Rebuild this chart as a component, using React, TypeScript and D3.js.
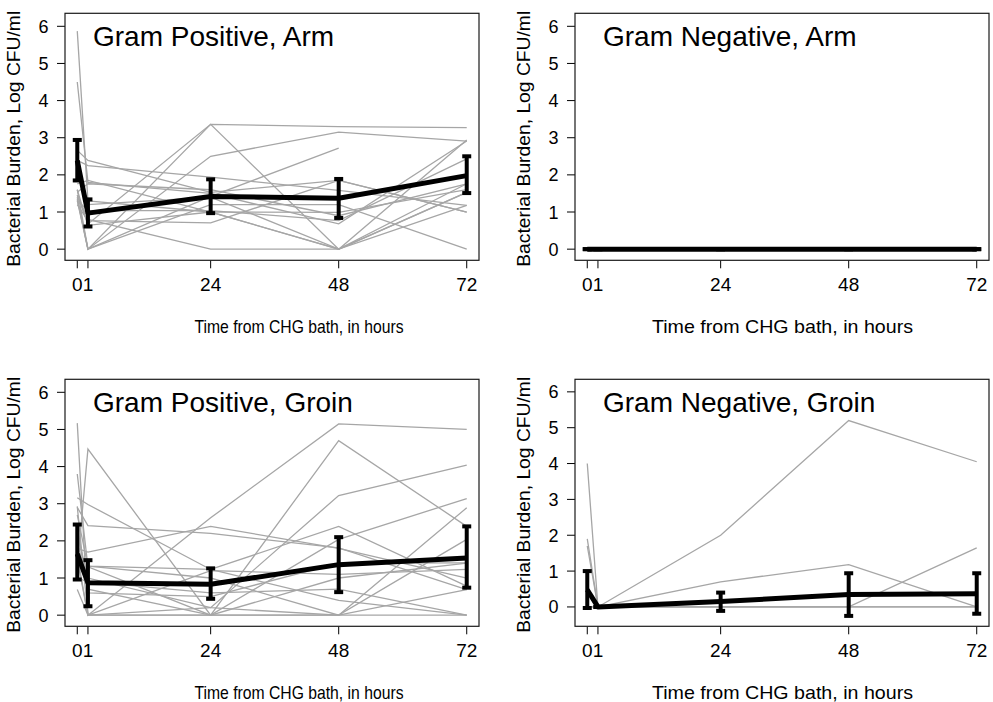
import * as d3 from "d3";

// time points (pre-bath plotted at -1, labelled "0")
const timePoints = [-1, 1, 24, 48, 72];
const timeLabels = ["0", "1", "24", "48", "72"];
const yTicks = [0, 1, 2, 3, 4, 5, 6];

// individual subjects, values at [0, 1, 24, 48, 72] h
const gpArmSubjects: (number | null)[][] = [
  [5.87, 1.3, 1.0, 0, 1.18],
  [4.5, 1.8, 1.5, 0.68, 2.91],
  [2.66, 2.39, 1.53, 1.85, 1.0],
  [2.39, 2.25, 1.94, 1.58, 1.18],
  [1.76, 1.85, 1.0, 0, 2.94],
  [1.53, 1.76, 1.6, 0.9, 1.76],
  [1.45, 0.68, 3.36, 3.3, 3.27],
  [1.31, 0, 3.36, 0, 1.53],
  [1.6, 0, 2.5, 3.15, 2.91],
  [1.4, 0, 1.42, 2.72, null],
  [1.31, 1.04, 1.04, 0.77, 2.43],
  [1.2, 0.77, 0.71, 1.85, 1.0],
  [1.45, 0.8, 0, 0, 1.53],
  [1.35, 0, 1.2, 1.2, 0],
  [2.0, 1.2, 1.4, 0, 1.76],
  [1.6, 0.64, 1.0, 0.99, 1.6],
];
const gpArmMean = [2.39, 0.97, 1.42, 1.37, 1.98];
const gpArmLow = [1.85, 0.61, 0.97, 0.84, 1.51];
const gpArmHigh = [2.94, 1.34, 1.88, 1.89, 2.5];

const gnArmSubjects: (number | null)[][] = [
  [0, 0, 0, 0, 0],
  [0, 0, 0, 0, 0],
  [0, 0, 0, 0, 0],
];
const gnArmMean = [0, 0, 0, 0, 0];
const gnArmLow = [0, 0, 0, 0, 0];
const gnArmHigh = [0, 0, 0, 0, 0];

const gpGroinSubjects: (number | null)[][] = [
  [5.17, 0, 2.62, 5.15, 5.0],
  [3.8, 1.3, 0, 4.7, 2.39],
  [2.93, 0, 0.2, 3.22, 4.04],
  [1.3, 4.47, 0, 1.0, 1.4],
  [3.16, 2.98, 1.23, 0.4, 0],
  [2.9, 2.41, 2.2, 1.81, 0.69],
  [1.8, 1.7, 2.39, 1.8, 1.0],
  [2.7, 1.32, 1.23, 2.39, 0.78],
  [0.69, 0, 0, 2.04, 3.14],
  [1.3, 1.32, 1.0, 0, 2.89],
  [2.0, 0.7, 0, 0, 2.04],
  [1.5, 0, 1.2, 1.1, 1.23],
  [1.0, 0.9, 0.6, 0.7, 0],
  [2.2, 1.0, 0.2, 0, 0.69],
  [1.6, 0, 0, 0, 0],
  [2.4, 0.6, 0.5, 1.4, 1.41],
];
const gpGroinMean = [1.65, 0.87, 0.83, 1.36, 1.54];
const gpGroinLow = [0.96, 0.24, 0.44, 0.62, 0.74];
const gpGroinHigh = [2.44, 1.48, 1.26, 2.1, 2.39];

const gnGroinSubjects: (number | null)[][] = [
  [4.0, 0, 2.0, 5.2, 4.05],
  [1.9, 0, 0.7, 1.18, 0],
  [1.7, 0, 0, 0, 1.65],
  [0, 0, 0, 0, 0],
  [0, 0, 0, 0, 0],
];
const gnGroinMean = [0.48, 0, 0.15, 0.35, 0.37];
const gnGroinLow = [-0.03, 0, -0.11, -0.25, -0.19];
const gnGroinHigh = [1.0, 0, 0.4, 0.94, 0.94];

const panels = [
  { title: "Gram Positive, Arm", subjects: gpArmSubjects, mean: gpArmMean, low: gpArmLow, high: gpArmHigh, yMin: -0.3, col: 0, row: 0 },
  { title: "Gram Negative, Arm", subjects: gnArmSubjects, mean: gnArmMean, low: gnArmLow, high: gnArmHigh, yMin: -0.3, col: 1, row: 0 },
  { title: "Gram Positive, Groin", subjects: gpGroinSubjects, mean: gpGroinMean, low: gpGroinLow, high: gpGroinHigh, yMin: -0.3, col: 0, row: 1 },
  { title: "Gram Negative, Groin", subjects: gnGroinSubjects, mean: gnGroinMean, low: gnGroinLow, high: gnGroinHigh, yMin: -0.54, col: 1, row: 1 },
];

const FONT = "'Liberation Sans', Arial, sans-serif";
const boxW = 414;
const boxH = 247;

function Panel({ p }: { p: (typeof panels)[number] }) {
  const left = 65 + 510 * p.col;
  const top = 13.3 + 366 * p.row;
  const x = d3.scaleLinear().domain([-3.3, 74.3]).range([left, left + boxW]);
  const y = d3.scaleLinear().domain([p.yMin, 6.35]).range([top + boxH, top]);

  const line = d3
    .line<number | null>()
    .defined((d) => d !== null)
    .x((_, i) => x(timePoints[i]))
    .y((d) => y(d as number));

  // the x titles in the source are not the same width left and right
  const xTitleX = p.col === 0 ? 299 : 782.5;
  const xTitleW = p.col === 0 ? 209 : 261;
  const capW = 4.5;

  return (
    <g>
      <text
        transform={`translate(${left - 45},${top + boxH / 2 + 2}) rotate(-90)`}
        textAnchor="middle"
        fontFamily={FONT}
        fontSize={18}
        textLength={256}
        lengthAdjust="spacingAndGlyphs"
        fill="#000"
      >
        Bacterial Burden, Log CFU/ml
      </text>
      {yTicks.map((t) => (
        <g key={t}>
          <line x1={left - 8} x2={left} y1={y(t)} y2={y(t)} stroke="#000" strokeWidth={1} />
          <text x={left - 16.5} y={y(t) + 6.5} textAnchor="end" fontFamily={FONT} fontSize={18}>
            {t}
          </text>
        </g>
      ))}
      {timePoints.map((t, i) => (
        <g key={t}>
          <line x1={x(t)} x2={x(t)} y1={top + boxH} y2={top + boxH + 8} stroke="#000" strokeWidth={1} />
          <text x={x(t)} y={top + boxH + 31} textAnchor="middle" fontFamily={FONT} fontSize={19}>
            {timeLabels[i]}
          </text>
        </g>
      ))}
      <text
        x={xTitleX}
        y={top + boxH + 73}
        textAnchor="middle"
        fontFamily={FONT}
        fontSize={19}
        textLength={xTitleW}
        lengthAdjust="spacingAndGlyphs"
      >
        Time from CHG bath, in hours
      </text>
      <rect x={left} y={top} width={boxW} height={boxH} fill="#fff" stroke="#1a1a1a" strokeWidth={1.2} />
      {p.subjects.map((s, i) => (
        <path key={i} d={line(s) || ""} fill="none" stroke="#a6a6a6" strokeWidth={1.3} />
      ))}
      {timePoints.map((t, i) => (
        <g key={t} stroke="#000" strokeWidth={4}>
          <line x1={x(t)} x2={x(t)} y1={y(p.low[i])} y2={y(p.high[i])} />
          <line x1={x(t) - capW} x2={x(t) + capW} y1={y(p.low[i])} y2={y(p.low[i])} />
          <line x1={x(t) - capW} x2={x(t) + capW} y1={y(p.high[i])} y2={y(p.high[i])} />
        </g>
      ))}
      <path d={line(p.mean) || ""} fill="none" stroke="#000" strokeWidth={5} strokeLinejoin="round" />
      <text x={left + 28} y={top + 33} fontFamily={FONT} fontSize={28}>
        {p.title}
      </text>
    </g>
  );
}

export default function App() {
  return (
    <svg
      width={993}
      height={702}
      style={{ position: "absolute", left: 0, top: 0, background: "#fff" }}
    >
      <rect width={993} height={702} fill="#fff" />
      {panels.map((p) => (
        <Panel key={p.title} p={p} />
      ))}
    </svg>
  );
}
